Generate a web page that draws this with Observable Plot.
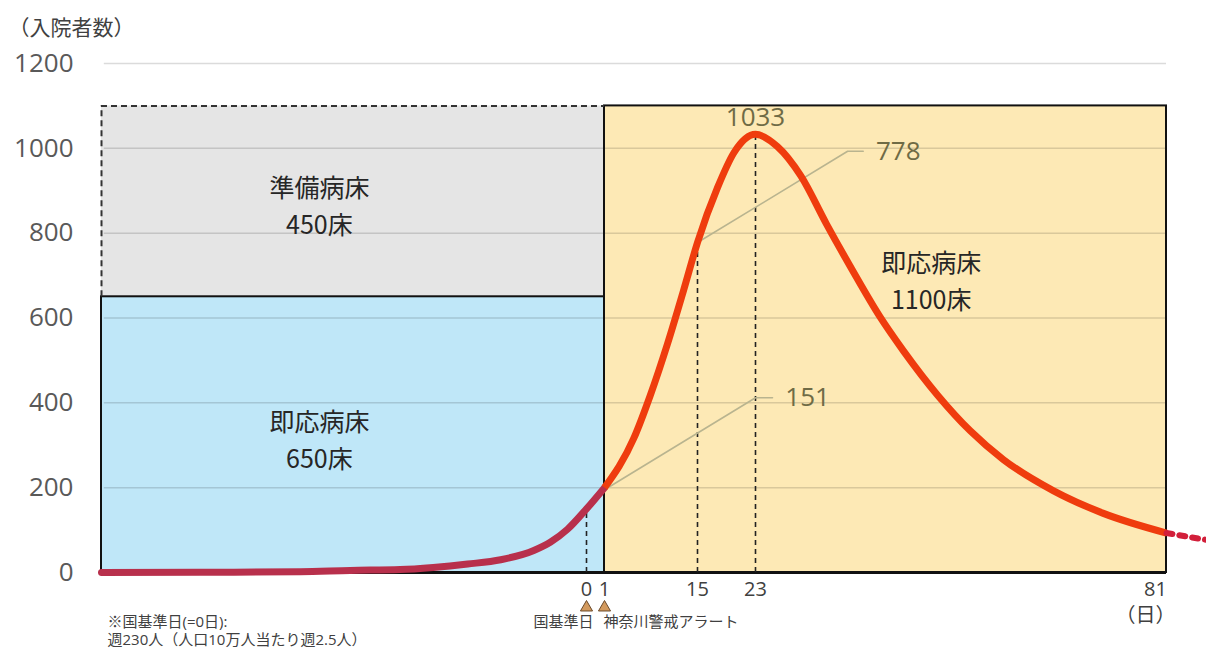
<!DOCTYPE html>
<html><head><meta charset="utf-8">
<script src="https://cdn.jsdelivr.net/npm/d3@7"></script>
<script src="https://cdn.jsdelivr.net/npm/@observablehq/plot@0.6"></script>
<style>
body{margin:0;background:#fff;}
#chart{width:1206px;height:653px;}
</style></head><body><div id="chart"></div>
<script>
// ---- data ----
const yTicks = [0, 200, 400, 600, 800, 1000, 1200];
const xTicks = [0, 1, 15, 23];
const xEndTick = [81];

// before the alert (days before the national reference day)
const leftDays   = [-69, -55, -40.7, -33.6, -26.5, -21.8, -16.9, -12.2, -7.5, -5.1, -2.7, 0, 1];
const leftValues = [0,    0.5,  2,     5,     7,     12,    20,    30,    52,   72,   102, 150, 200];

// after the alert
const rightDays   = [1,   5.4, 7.9, 10.5, 12.9, 15,  17.8, 20,  23,   26.1, 29.4, 33,  36.6, 40.6, 43.9, 48.7, 53.3, 58,  65,  72,  81];
const rightValues = [200, 316, 418, 540,  665,  778, 909,  989, 1033, 1004, 935,  822, 715,  602,  522,  418,  334,  266, 193, 140, 93];

// continuation beyond day 81
const tailDays   = [81, 86.6];
const tailValues = [93, 77];

// bed capacity boxes
const boxNames  = ["即応病床", "準備病床", "即応病床"];
const boxBeds   = ["650床", "450床", "1100床"];
const boxX1 = [-69, -69, 1];
const boxX2 = [1, 1, 81];
const boxY1 = [0, 650, 0];
const boxY2 = [650, 1100, 1100];
const boxLabelDay   = [-38, -38, 47.8];
const boxLabelValue = [319, 869, 692];

// markers
const markerDays   = [0, 15, 23];
const markerValues = [150, 778, 1033];

// value call-outs
const calloutText  = ["778", "151"];
const calloutDays  = [[15, 36, 38.2], [1, 23, 25.4]];
const calloutVals  = [[778, 993, 993], [195, 412, 412]];
const calloutTextDay = [40, 27.2];

const peakLabel = "1033";
const yTitle = "（入院者数）";
const xUnit = "（日）";
const eventDays = [0, 1];
const eventLabels = ["国基準日", "神奈川警戒アラート"];
const notes = ["※国基準日(=0日):", "週230人（人口10万人当たり週2.5人）"];

// ---- tables ----
const toPts = (xs, ys) => xs.map((d, i) => ({day: d, v: ys[i]}));
const boxes = boxNames.map((n, i) => ({name: n, beds: boxBeds[i], x1: boxX1[i], x2: boxX2[i], y1: boxY1[i], y2: boxY2[i],
  lx: boxLabelDay[i], ly: boxLabelValue[i], fill: ["#bfe7f8", "#e5e5e5", "#fde9b5"][i]}));
const markers = markerDays.map((d, i) => ({day: d, v: markerValues[i]}));
const callouts = calloutText.map((t, i) => toPts(calloutDays[i], calloutVals[i]));
const calloutLabels = calloutText.map((t, i) => ({t, day: calloutTextDay[i], v: calloutVals[i][2]}));

const FONT = '"Open Sans", "Noto Sans CJK JP", sans-serif';
const OLIVE = "#6f6b45";

const chart = Plot.plot({
  width: 1206,
  height: 653,
  marginLeft: 101, marginRight: 40, marginTop: 63, marginBottom: 81,
  style: {fontFamily: FONT, background: "#fff", overflow: "visible"},
  x: {type: "linear", domain: [-69, 0, 1, 15, 23, 81], range: [101, 586, 604, 697, 755, 1166]},
  y: {domain: [0, 1200]},
  marks: [
    // box fills
    Plot.rect(boxes, {x1: "x1", x2: "x2", y1: "y1", y2: "y2", fill: "fill"}),
    // grid
    Plot.ruleY(yTicks.filter(d => d > 0), {x1: -68.6, x2: 81, stroke: "#000", strokeOpacity: 0.14, strokeWidth: 1.5}),
    // box outlines
    Plot.rect(boxes.filter(b => b.name === "即応病床"), {x1: "x1", x2: "x2", y1: "y1", y2: "y2", fill: "none", stroke: "#111", strokeWidth: 2}),
    Plot.ruleY([1100], {x1: -69, x2: 1, stroke: "#333", strokeWidth: 2, strokeDasharray: "6,4"}),
    Plot.ruleX([-69], {y1: 650, y2: 1100, stroke: "#333", strokeWidth: 2, strokeDasharray: "6,4"}),
    // baseline
    Plot.ruleY([0], {x1: -69, x2: 81, stroke: "#111", strokeWidth: 3}),
    // marker dashed verticals
    Plot.ruleX(markers, {x: "day", y1: 0, y2: "v", stroke: "#222", strokeWidth: 1.6, strokeDasharray: "5,4"}),
    // call-out leader lines
    ...callouts.map(c => Plot.line(c, {x: "day", y: "v", stroke: "#b9b48f", strokeWidth: 1.6})),
    // curve
    Plot.line(toPts(leftDays, leftValues), {x: "day", y: "v", stroke: "#b8304c", strokeWidth: 7, curve: "monotone-x", strokeLinecap: "round"}),
    Plot.line(toPts(rightDays, rightValues), {x: "day", y: "v", stroke: "#ef3c0e", strokeWidth: 7, curve: "monotone-x", strokeLinecap: "butt"}),
    Plot.line(toPts(tailDays, tailValues), {x: "day", y: "v", stroke: "#d21f3a", strokeWidth: 6, strokeDasharray: "6,7"}),
    // box labels
    Plot.text(boxes, {x: "lx", y: "ly", text: b => b.name + "\n" + b.beds, fontSize: 25, lineHeight: 1.48, fill: "#262626", fontFamily: '"Noto Sans CJK JP", sans-serif'}),
    // value labels
    Plot.text([peakLabel], {x: 23, y: 1033, dy: -17, text: d => d, fontSize: 26, fill: OLIVE}),
    Plot.text(calloutLabels, {x: "day", y: "v", text: "t", textAnchor: "start", fontSize: 26, fill: OLIVE}),
    // axes
    Plot.axisY({ticks: yTicks, tickFormat: d => String(d), tickSize: 0, tickPadding: 28, fontSize: 26, color: "#595959", label: null}),
    Plot.axisX({ticks: xTicks, tickFormat: d => String(d), tickSize: 0, tickPadding: 9, fontSize: 20, color: "#404040", label: null}),
    Plot.axisX({ticks: xEndTick, tickFormat: d => String(d), tickSize: 0, tickPadding: 9, fontSize: 20, color: "#404040", label: null, dx: -11}),
    // event markers
    Plot.dot(eventDays, {x: d => d, frameAnchor: "bottom", dy: 35, symbol: "triangle", r: 4.5, fill: "#d39a5e", stroke: "#6b4a2a", strokeWidth: 1}),
    Plot.text([eventLabels[0]], {x: eventDays[0], frameAnchor: "bottom", lineAnchor: "middle", dx: 7, dy: 50, text: d => d, textAnchor: "end", fontSize: 15, fill: "#404040"}),
    Plot.text([eventLabels[1]], {x: eventDays[1], frameAnchor: "bottom", lineAnchor: "middle", dx: -1, dy: 50, text: d => d, textAnchor: "start", fontSize: 15, fill: "#404040"}),
    // titles / notes
    Plot.text([yTitle], {frameAnchor: "top-left", lineAnchor: "middle", dx: -93, dy: -35, text: d => d, textAnchor: "start", fontSize: 21, fill: "#404040"}),
    Plot.text([xUnit], {frameAnchor: "bottom-right", lineAnchor: "middle", dx: 9, dy: 43, text: d => d, fontSize: 20, fill: "#404040"}),
    Plot.text([notes[0]], {frameAnchor: "bottom-left", lineAnchor: "middle", dx: 6, dy: 50, text: d => d, textAnchor: "start", fontSize: 15, fill: "#404040"}),
    Plot.text([notes[1]], {frameAnchor: "bottom-left", lineAnchor: "middle", dx: 6, dy: 68, text: d => d, textAnchor: "start", fontSize: 15, fill: "#404040"})
  ]
});
document.getElementById("chart").appendChild(chart);
</script></body></html>
